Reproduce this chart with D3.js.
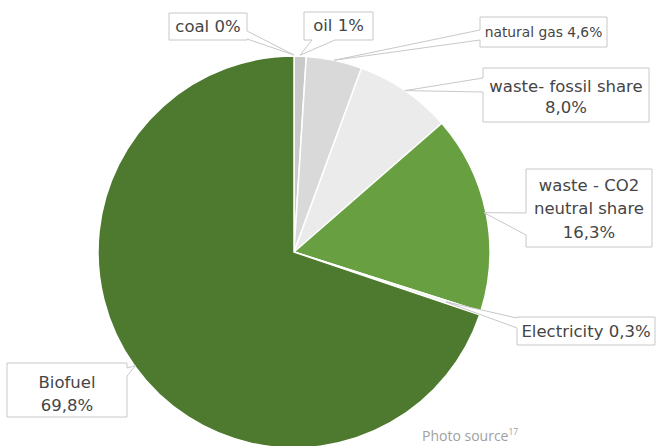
<!DOCTYPE html>
<html>
<head>
<meta charset="utf-8">
<script src="https://cdn.jsdelivr.net/npm/d3@7"></script>
<style>
  body { margin: 0; background: #fff; }
  svg { display: block; }
</style>
</head>
<body>
<svg id="chart" width="659" height="446"></svg>
<script>
// shares in percent, clockwise from 12 o'clock
const categories = ["coal", "oil", "natural gas", "waste- fossil share", "waste - CO2 neutral share", "Electricity", "Biofuel"];
const values = [0, 1, 4.6, 8.0, 16.3, 0.3, 69.8];
const labelLines = [
  ["coal 0%"],
  ["oil 1%"],
  ["natural gas 4,6%"],
  ["waste- fossil share", "8,0%"],
  ["waste - CO2", "neutral share", "16,3%"],
  ["Electricity 0,3%"],
  ["Biofuel", "69,8%"]
];
const colors = ["#a6a6a6", "#c9c9c9", "#d9d9d9", "#ebebeb", "#68a041", "#eef3ea", "#4e7a2f"];

// callout boxes: box, wedge side, wedge base span, pointer radius
const boxes = [
  { x0: 169, y0: 13, x1: 247, y1: 40, side: "right", a: 31, b: 39, r: 197, fs: 16.5, lh: 0, cy: 26 },
  { x0: 304, y0: 12, x1: 373, y1: 40, side: "bottom", a: 312, b: 335, r: 197, fs: 16.5, lh: 0, cy: 25 },
  { x0: 480, y0: 17, x1: 607, y1: 47, side: "left", a: 30, b: 40, r: 196, fs: 13.8, lh: 0, cy: 32 },
  { x0: 483, y0: 68, x1: 649, y1: 122, side: "left", a: 78, b: 92, r: 196, fs: 16.5, lh: 21, cy: 86 },
  { x0: 526, y0: 169, x1: 652, y1: 247, side: "left", a: 213, b: 235, r: 194, fs: 16.5, lh: 23.5, cy: 185 },
  { x0: 517, y0: 317, x1: 655, y1: 345, side: "left", a: 318, b: 328, r: 160, fs: 16.5, lh: 0, cy: 331 },
  { x0: 7, y0: 363, x1: 127, y1: 417, side: "right", a: 368, b: 376, r: 195, fs: 16.5, lh: 23, cy: 382 }
];

const cx = 294, cy = 252, radius = 196;
const svg = d3.select("#chart");

const pie = d3.pie().sort(null).value(d => d);
const arcs = pie(values);
const arc = d3.arc().innerRadius(0).outerRadius(radius);

const g = svg.append("g").attr("transform", `translate(${cx},${cy})`);
g.selectAll("path")
  .data(arcs)
  .join("path")
  .attr("d", arc)
  .attr("fill", (d, i) => colors[i])
  .attr("stroke", "#fff")
  .attr("stroke-width", 1.5)
  .attr("stroke-linejoin", "round");

// point the callout wedge at the middle of its slice
function target(d, r) {
  const p = d3.arc().innerRadius(r).outerRadius(r).centroid(d);
  return [p[0] + cx, p[1] + cy];
}

function callout(b, t) {
  const [tx, ty] = t;
  const p = d3.path();
  p.moveTo(b.x0, b.y0);
  if (b.side === "top") { p.lineTo(b.a, b.y0); p.lineTo(tx, ty); p.lineTo(b.b, b.y0); }
  p.lineTo(b.x1, b.y0);
  if (b.side === "right") { p.lineTo(b.x1, b.a); p.lineTo(tx, ty); p.lineTo(b.x1, b.b); }
  p.lineTo(b.x1, b.y1);
  if (b.side === "bottom") { p.lineTo(b.b, b.y1); p.lineTo(tx, ty); p.lineTo(b.a, b.y1); }
  p.lineTo(b.x0, b.y1);
  if (b.side === "left") { p.lineTo(b.x0, b.b); p.lineTo(tx, ty); p.lineTo(b.x0, b.a); }
  p.closePath();
  return p.toString();
}

const labels = svg.append("g").selectAll("g")
  .data(arcs)
  .join("g");

labels.append("path")
  .attr("d", (d, i) => callout(boxes[i], target(d, boxes[i].r)))
  .attr("fill", "#fff")
  .attr("stroke", "#c8c8c8")
  .attr("stroke-width", 1);

labels.each(function (d, i) {
  const b = boxes[i];
  const t = d3.select(this).append("text")
    .attr("text-anchor", "middle")
    .attr("font-family", "'DejaVu Sans', Verdana, sans-serif")
    .attr("font-size", b.fs)
    .attr("fill", "#454545");
  labelLines[i].forEach((line, k) => {
    t.append("tspan")
      .attr("x", (b.x0 + b.x1) / 2)
      .attr("y", b.cy + k * b.lh)
      .attr("dy", "0.36em")
      .text(line);
  });
});

const src = svg.append("text")
  .attr("x", 422)
  .attr("y", 441)
  .attr("font-family", "'Open Sans', sans-serif")
  .attr("font-size", 14)
  .attr("fill", "#a0a0a0");
src.append("tspan").text("Photo source");
src.append("tspan").attr("font-size", 8.5).attr("dy", -6).text("17");
</script>
</body>
</html>
